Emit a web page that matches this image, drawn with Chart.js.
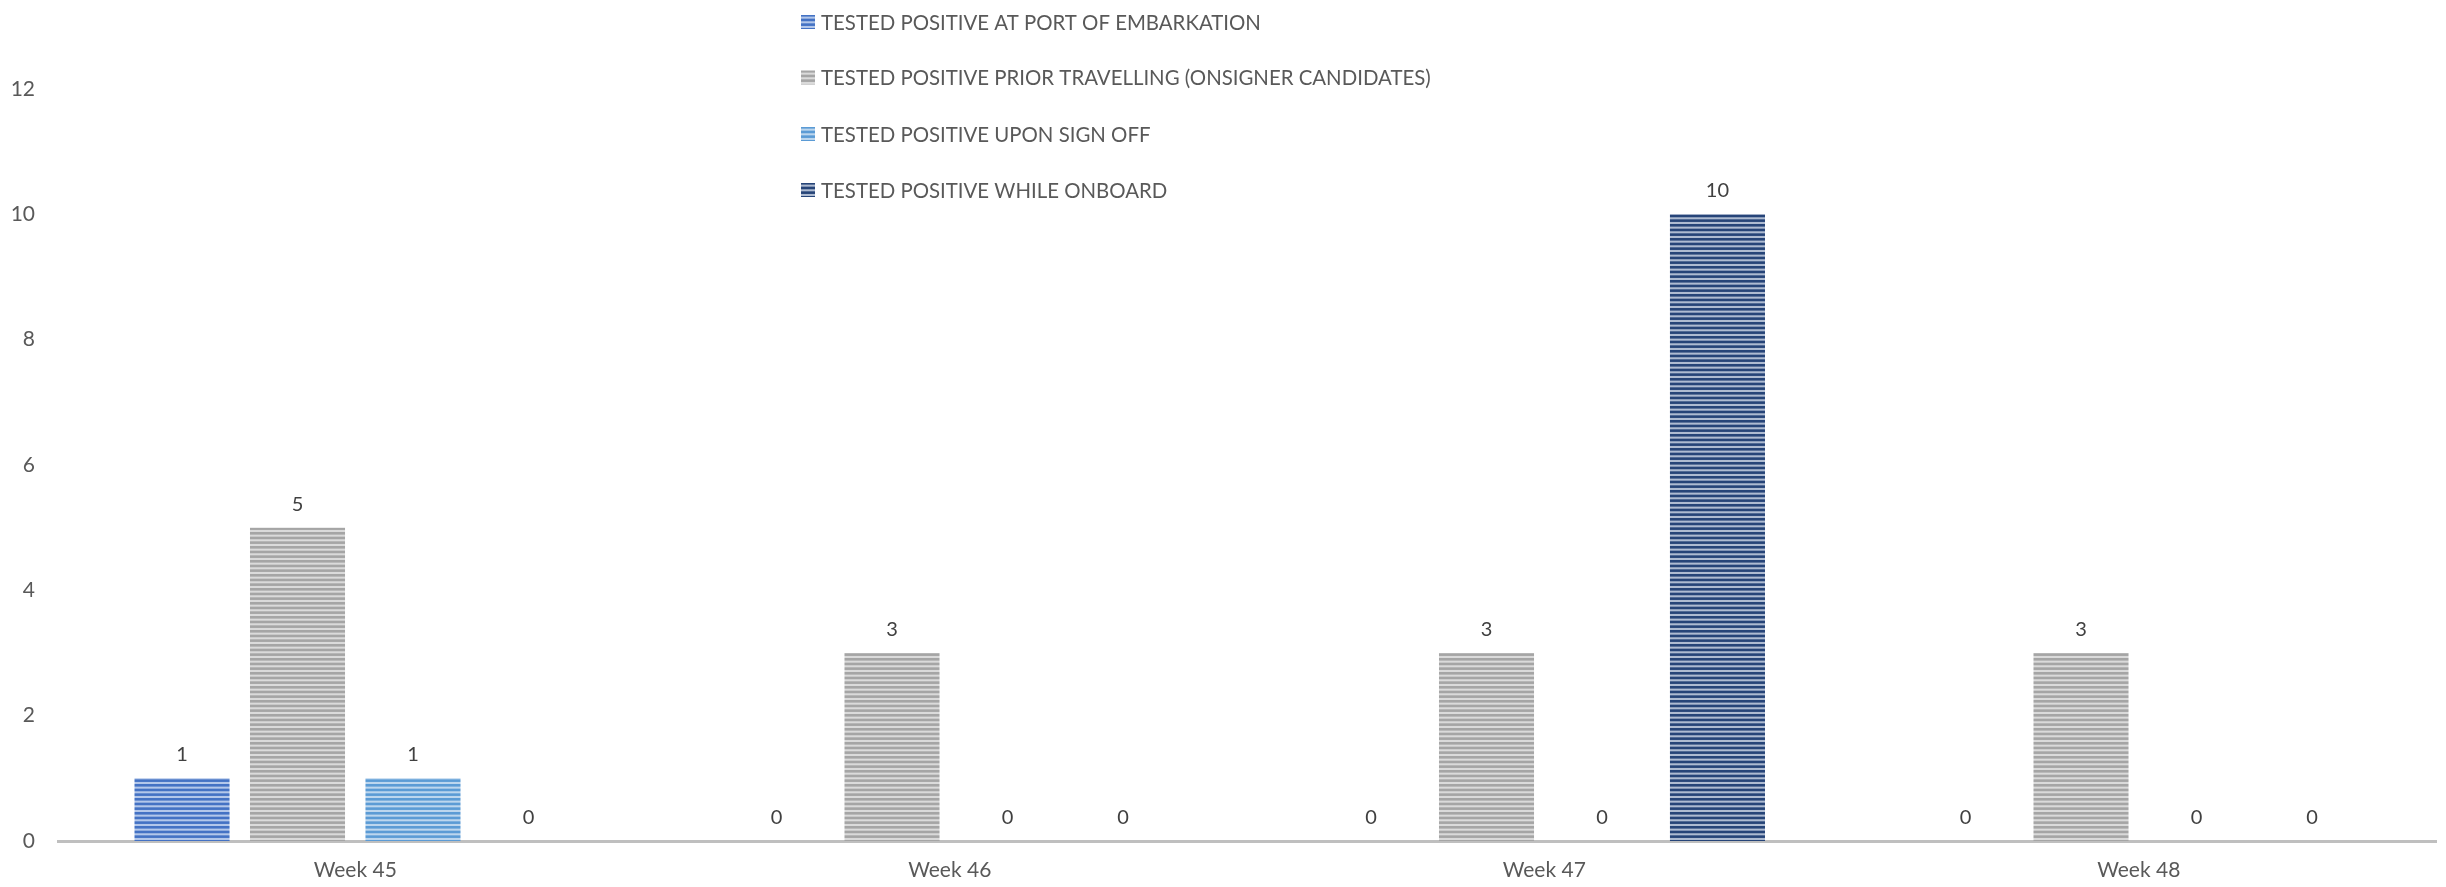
<!DOCTYPE html>
<html>
<head>
<meta charset="utf-8">
<script src="https://cdn.jsdelivr.net/npm/chart.js@4.4.1/dist/chart.umd.min.js"></script>
<style>
  html, body { margin: 0; padding: 0; background: #ffffff; }
  #wrap { width: 2446px; height: 887px; }
</style>
</head>
<body>
<div id="wrap"><canvas id="c" width="2446" height="887"></canvas></div>
<script>
// Weekly categories
const weeks = ['Week 45', 'Week 46', 'Week 47', 'Week 48'];

// Series values (cases per week)
const portOfEmbarkation = [1, 0, 0, 0];
const priorTravelling   = [5, 3, 3, 3];
const uponSignOff       = [1, 0, 0, 0];
const whileOnboard      = [0, 0, 10, 0];

// Series names
const seriesNames = [
  'TESTED POSITIVE AT PORT OF EMBARKATION',
  'TESTED POSITIVE PRIOR TRAVELLING (ONSIGNER CANDIDATES)',
  'TESTED POSITIVE UPON SIGN OFF',
  'TESTED POSITIVE WHILE ONBOARD'
];

// Y axis ticks
const yTicks = [0, 2, 4, 6, 8, 10, 12];

const FONT = 'Lato, "Open Sans", "Liberation Sans", sans-serif';

// Horizontal striped fill: solid lines alternating with a lighter tint
function stripes(main, light) {
  const p = document.createElement('canvas');
  p.width = 8; p.height = 14;
  const g = p.getContext('2d');
  g.fillStyle = light;
  g.fillRect(0, 0, 8, 14);
  g.fillStyle = main;
  const period = 14 / 3;
  for (let i = 0; i < 3; i++) {
    g.fillRect(0, i * period, 8, 2.6);
  }
  return g.createPattern(p, 'repeat');
}

const ctx = document.getElementById('c').getContext('2d');
const fills = [
  stripes('#4472C4', '#b3c7ea'),
  stripes('#A5A5A5', '#dadada'),
  stripes('#5B9BD5', '#bcd6ee'),
  stripes('#264478', '#aebbd1')
];

const seriesData = [portOfEmbarkation, priorTravelling, uponSignOff, whileOnboard];

// Value labels above each bar
const valueLabels = {
  id: 'valueLabels',
  afterDatasetsDraw(chart) {
    const c = chart.ctx;
    c.save();
    c.font = '20px ' + FONT;
    c.fillStyle = '#404040';
    c.textAlign = 'center';
    c.textBaseline = 'middle';
    chart.data.datasets.forEach((ds, di) => {
      const meta = chart.getDatasetMeta(di);
      meta.data.forEach((bar, i) => {
        c.fillText(String(ds.data[i]), bar.x, bar.y - 23.5);
      });
    });
    c.restore();
  }
};

// Vertical legend list near the top centre
const stackedLegend = {
  id: 'stackedLegend',
  afterDraw(chart) {
    const c = chart.ctx;
    c.save();
    c.font = '20.4px ' + FONT;
    c.textAlign = 'left';
    c.textBaseline = 'middle';
    const x0 = 801, rowY = [22, 77.5, 134, 190];
    chart.data.datasets.forEach((ds, i) => {
      const y = rowY[i];
      c.fillStyle = ds.backgroundColor;
      c.fillRect(x0, y - 7, 14, 14);
      c.fillStyle = '#595959';
      c.fillText(ds.label, x0 + 20, y + 1);
    });
    c.restore();
  }
};

new Chart(ctx, {
  type: 'bar',
  data: {
    labels: weeks,
    datasets: seriesData.map((d, i) => ({
      label: seriesNames[i],
      data: d,
      backgroundColor: fills[i],
      borderWidth: 0,
      categoryPercentage: 0.777,
      barPercentage: 0.823
    }))
  },
  options: {
    responsive: false,
    animation: false,
    devicePixelRatio: 1,
    layout: { padding: { top: 89, left: 0, right: 10, bottom: 0 } },
    plugins: {
      legend: { display: false },
      tooltip: { enabled: false }
    },
    scales: {
      x: {
        grid: { display: false, drawTicks: false },
        border: { display: true, color: '#bfbfbf', width: 3 },
        ticks: { color: '#595959', font: { family: FONT, size: 21 }, padding: 17 },
        afterFit(s) { s.height = 46; }
      },
      y: {
        min: 0,
        max: 12,
        afterBuildTicks(s) { s.ticks = yTicks.map(v => ({ value: v })); },
        grid: { display: false, drawTicks: false },
        border: { display: false },
        ticks: { color: '#595959', font: { family: FONT, size: 21 }, padding: 23 },
        afterFit(s) { s.width = 58; }
      }
    }
  },
  plugins: [valueLabels, stackedLegend]
});
</script>
</body>
</html>
